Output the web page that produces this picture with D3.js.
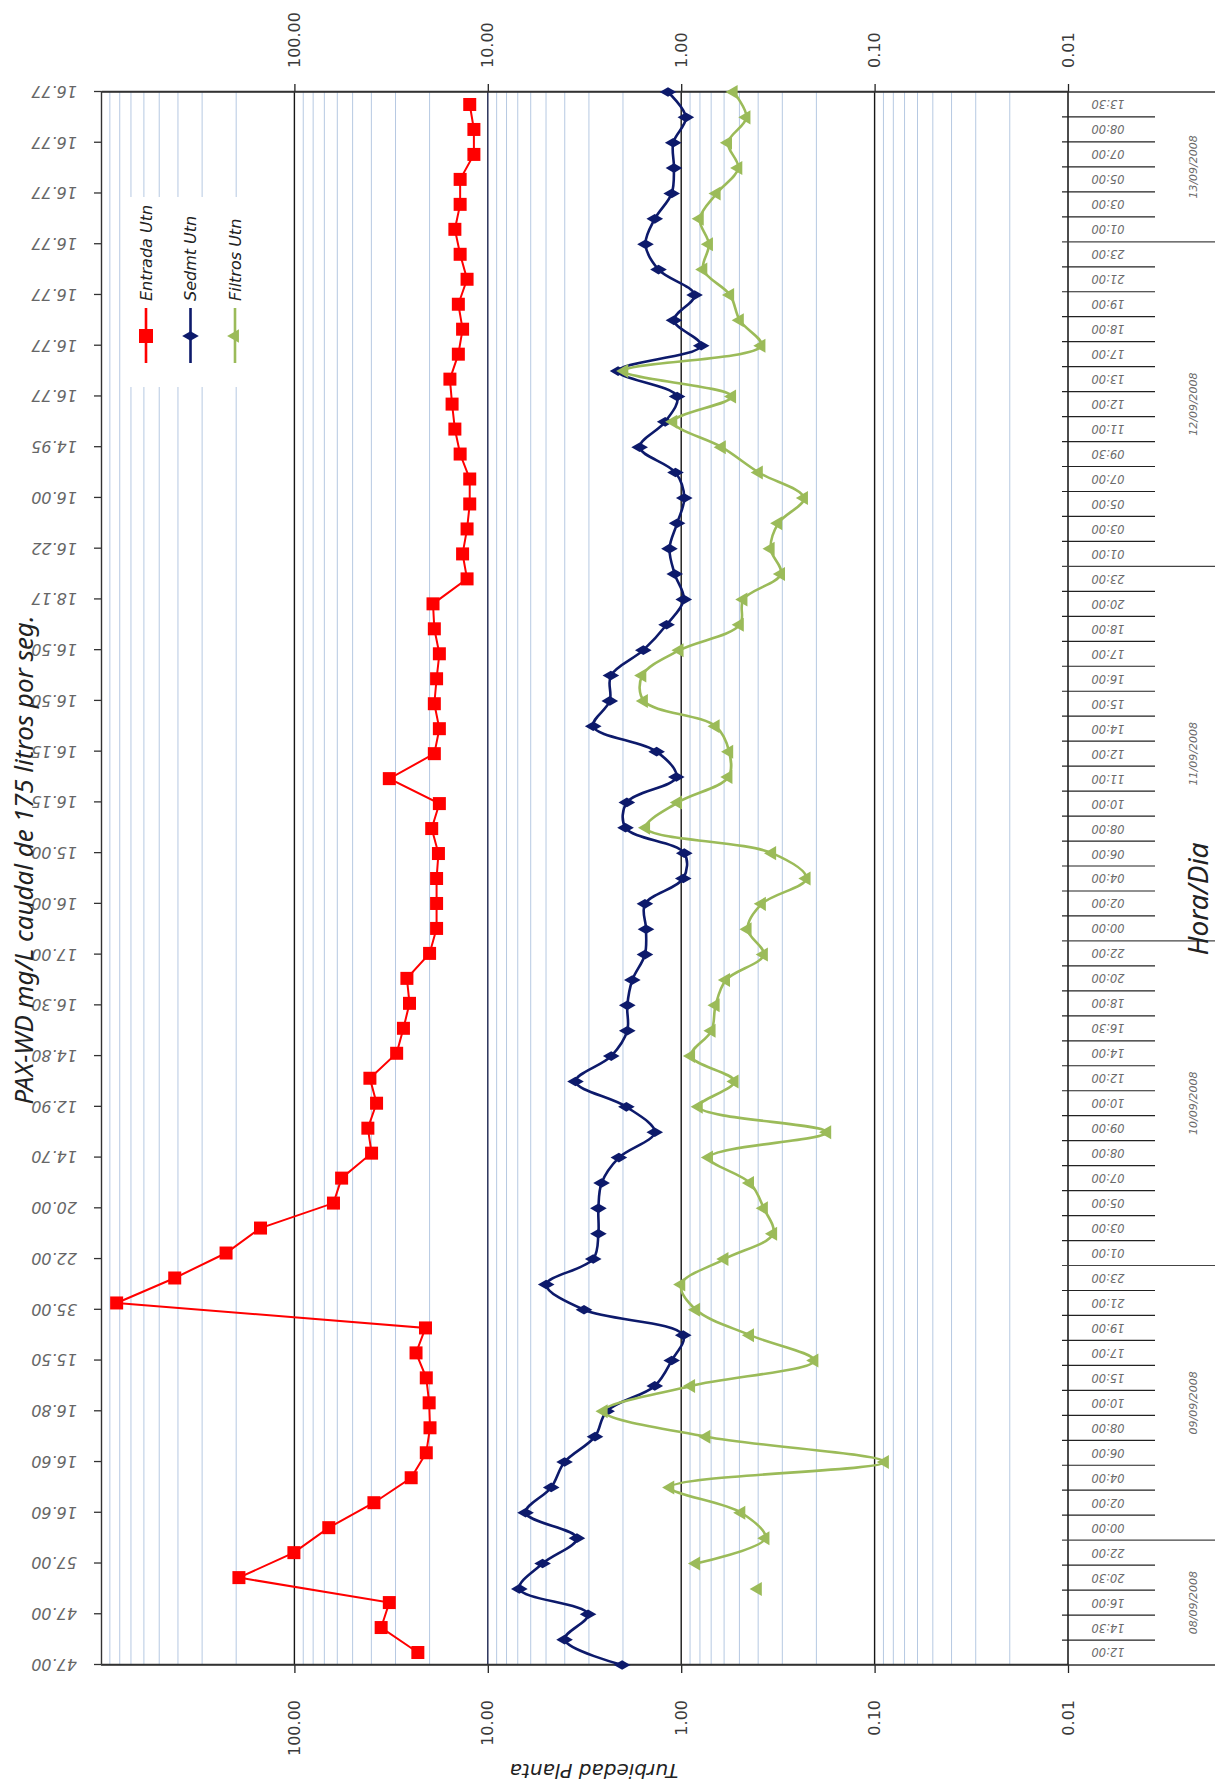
<!DOCTYPE html>
<html>
<head>
<meta charset="utf-8">
<script src="https://cdn.jsdelivr.net/npm/d3@7"></script>
<style>
  html, body { margin: 0; padding: 0; background: #ffffff; }
  svg { display: block; }
</style>
</head>
<body>
<script>
// ---------------- DATA ----------------
const horas = [
  "12:00","14:30","16:00","20:30","22:00",
  "00:00","02:00","04:00","06:00","08:00","10:00","15:00","17:00","19:00","21:00","23:00",
  "01:00","03:00","05:00","07:00","08:00","09:00","10:00","12:00","14:00","16:30","18:00","20:00","22:00",
  "00:00","02:00","04:00","06:00","08:00","10:00","11:00","12:00","14:00","15:00","16:00","17:00","18:00","20:00","23:00",
  "01:00","03:00","05:00","07:00","09:30","11:00","12:00","13:00","17:00","18:00","19:00","21:00","23:00",
  "01:00","03:00","05:00","07:00","08:00","13:30"
];
const dias = ["08/09/2008","09/09/2008","10/09/2008","11/09/2008","12/09/2008","13/09/2008"];
const horasPorDia = [5, 11, 13, 15, 13, 6];

// PAX-WD dose labels on the secondary category axis (every second sample)
const dosisEtiquetas = [
  "47.00","47.00","57.00","16.60","16.60","16.80","15.50","35.00","22.00","20.00",
  "14.70","12.90","14.80","16.30","17.00","16.00","15.00","16.15","16.15","16.50",
  "16.50","18.17","16.22","16.00","14.95","16.77","16.77","16.77","16.77","16.77",
  "16.77","16.77"
];

const entrada = [
  23.0, 35.6, 32.3, 193.6, 100.6, 66.4, 38.8, 24.9, 20.8, 19.9,
  20.1, 20.8, 23.5, 21.0, 830, 415.7, 225.6, 149.7, 62.8, 57.0,
  39.9, 41.7, 37.6, 40.7, 29.6, 27.3, 25.4, 26.2, 20.0, 18.4,
  18.4, 18.4, 18.0, 19.5, 17.8, 32.3, 18.9, 17.8, 18.9, 18.4,
  17.8, 18.9, 19.2, 12.8, 13.5, 12.8, 12.4, 12.4, 13.9, 14.8,
  15.3, 15.7, 14.2, 13.5, 14.2, 12.8, 13.9, 14.8, 13.9, 13.9,
  11.8, 11.8, 12.4
];
const sedmt = [
  2.02, 4.01, 3.03, 6.87, 5.21, 3.46, 6.38, 4.70, 4.01, 2.79,
  2.43, 1.37, 1.12, 0.976, 3.18, 4.99, 2.85, 2.68, 2.68, 2.58,
  2.10, 1.37, 1.92, 3.52, 2.30, 1.90, 1.90, 1.79, 1.54, 1.52,
  1.54, 0.976, 0.964, 1.94, 1.91, 1.06, 1.34, 2.85, 2.34, 2.31,
  1.57, 1.19, 0.97, 1.08, 1.15, 1.05, 0.964, 1.07, 1.64, 1.21,
  1.05, 2.12, 0.788, 1.09, 0.853, 1.31, 1.53, 1.37, 1.12, 1.09,
  1.10, 0.946, 1.17
];
const filtros = [
  null, null, null, 0.402, 0.838, 0.367, 0.489, 1.14, 0.0885, 0.741,
  2.52, 0.890, 0.205, 0.441, 0.838, 1.00, 0.598, 0.335, 0.374, 0.441,
  0.719, 0.176, 0.812, 0.530, 0.890, 0.697, 0.664, 0.587, 0.374, 0.454,
  0.383, 0.225, 0.339, 1.52, 1.04, 0.570, 0.565, 0.664, 1.56, 1.59,
  1.02, 0.498, 0.477, 0.305, 0.345, 0.315, 0.232, 0.397, 0.617, 1.10,
  0.546, 1.97, 0.385, 0.498, 0.559, 0.769, 0.719, 0.802, 0.656, 0.507,
  0.573, 0.460, 0.536
];
// samples of "Filtros" shown as a lone marker (not joined to the line)
const filtrosSoloMarcador = [3];

const valorTicks = [100, 10, 1, 0.1, 0.01];
const series = [
  { nombre: "Entrada Utn", color: "#ff0000", simbolo: "square" },
  { nombre: "Sedmt Utn",   color: "#0d1a6b", simbolo: "diamond" },
  { nombre: "Filtros Utn", color: "#9bbb59", simbolo: "triangle" }
];

// ---------------- LAYOUT (drawn in the chart's own frame, then turned) ----------------
const W = 1787, H = 1225;           // unrotated chart frame
const plotL = 122, plotR = 1695, plotT = 101, plotB = 1068;
const axisFont = "'DejaVu Sans', Verdana, sans-serif";

const svg = d3.select("body").append("svg")
  .attr("width", 1225).attr("height", 1787);
svg.append("rect").attr("width", 1225).attr("height", 1787).attr("fill", "#ffffff");

const g = svg.append("g").attr("transform", `translate(0,${W}) rotate(-90)`);

const idx = d3.range(horas.length);
const xBand = d3.scaleBand().domain(idx).range([plotL, plotR]).paddingInner(0).paddingOuter(0);
const xPoint = d3.scalePoint().domain(idx).range([plotL, plotR]);
const y = d3.scaleLog().domain([0.01, 1000]).range([plotB, plotT]);
const bw = xBand.bandwidth();
const cx = i => xBand(i) + bw / 2;

// plot background
g.append("rect").attr("x", plotL).attr("y", plotT)
  .attr("width", plotR - plotL).attr("height", plotB - plotT).attr("fill", "#ffffff");

// minor gridlines
const menores = [];
[0.01, 0.1, 1, 10, 100].forEach(d => { for (let m = 2; m <= 9; m++) menores.push(m * d); });
g.append("g").selectAll("line").data(menores).join("line")
  .attr("x1", plotL).attr("x2", plotR)
  .attr("y1", d => y(d)).attr("y2", d => y(d))
  .attr("stroke", "#b6c9e2").attr("stroke-width", 1);

// major gridlines
g.append("g").selectAll("line").data([100, 10, 1, 0.1]).join("line")
  .attr("x1", plotL).attr("x2", plotR)
  .attr("y1", d => y(d)).attr("y2", d => y(d))
  .attr("stroke", d => d === 10 ? "#1c2550" : "#161616").attr("stroke-width", 1.4);

// value axes (primary left, secondary right)
const fmt = d3.format(".2f");
const axL = g.append("g").attr("transform", `translate(${plotL},0)`)
  .call(d3.axisLeft(y).tickValues(valorTicks).tickFormat(fmt).tickSize(8).tickSizeOuter(0).tickPadding(27));
const axR = g.append("g").attr("transform", `translate(${plotR},0)`)
  .call(d3.axisRight(y).tickValues(valorTicks).tickFormat(fmt).tickSize(8).tickSizeOuter(0).tickPadding(16));
[axL, axR].forEach(a => {
  a.select(".domain").attr("stroke", "#333").attr("stroke-width", 1.4);
  a.selectAll(".tick line").attr("stroke", "#222").attr("stroke-width", 1.3);
  a.selectAll(".tick text").attr("font-family", axisFont).attr("font-size", 16)
    .attr("fill", "#3a3a3a");
});

// secondary category axis (top) : PAX-WD dose
const axT = g.append("g").attr("transform", `translate(0,${plotT})`)
  .call(d3.axisTop(xPoint).tickValues(d3.range(0, horas.length, 2))
    .tickFormat(i => dosisEtiquetas[i / 2]).tickSize(7).tickSizeOuter(0));
axT.select(".domain").attr("stroke", "#333").attr("stroke-width", 1.4);
axT.selectAll(".tick line").attr("stroke", "#333").attr("stroke-width", 1.3);
axT.selectAll(".tick text")
  .attr("transform", "rotate(-90)").attr("x", 24).attr("y", 0).attr("dy", "0.35em")
  .attr("text-anchor", "start").attr("font-family", axisFont).attr("font-size", 16)
  .attr("font-style", "italic").attr("fill", "#666");

// primary category axis line (at 0.01)
g.append("line").attr("x1", plotL).attr("x2", plotR).attr("y1", plotB).attr("y2", plotB)
  .attr("stroke", "#111").attr("stroke-width", 1.5);

// plot side borders extended through the multi-level label area
g.append("g").selectAll("line").data([plotL, plotR]).join("line")
  .attr("x1", d => d).attr("x2", d => d).attr("y1", plotT).attr("y2", 1215)
  .attr("stroke", "#333").attr("stroke-width", 1.5);

// hour separators and day separators
const inicioDia = [];
let acc = 0;
horasPorDia.forEach(n => { inicioDia.push(acc); acc += n; });
const separadores = d3.range(1, horas.length);
g.append("g").selectAll("line").data(separadores).join("line")
  .attr("x1", k => xBand(k)).attr("x2", k => xBand(k))
  .attr("y1", plotB - 6)
  .attr("y2", k => inicioDia.includes(k) ? 1215 : 1155)
  .attr("stroke", k => inicioDia.includes(k) ? "#444" : "#222")
  .attr("stroke-width", 1.2);

// hour labels
g.append("g").selectAll("text").data(idx).join("text")
  .attr("transform", i => `translate(${cx(i)},1108) rotate(-90)`)
  .attr("dy", "0.35em").attr("text-anchor", "middle")
  .attr("font-family", axisFont).attr("font-size", 11.5).attr("font-style", "italic")
  .attr("fill", "#6a6a6a").text(i => horas[i]);

// day labels
g.append("g").selectAll("text").data(dias).join("text")
  .attr("x", (d, j) => (xBand(inicioDia[j]) + xBand(inicioDia[j] + horasPorDia[j] - 1) + bw) / 2)
  .attr("y", 1197).attr("text-anchor", "middle")
  .attr("font-family", axisFont).attr("font-size", 11).attr("font-style", "italic")
  .attr("fill", "#6a6a6a").text(d => d);

// ---------------- SERIES ----------------
// Entrada: straight segments, band-centred (primary axis)
g.append("path").datum(entrada)
  .attr("d", d3.line().x((d, i) => cx(i)).y(d => y(d)))
  .attr("fill", "none").attr("stroke", series[0].color).attr("stroke-width", 2);
g.append("g").selectAll("rect").data(entrada).join("rect")
  .attr("x", (d, i) => cx(i) - 6.5).attr("y", d => y(d) - 6.5)
  .attr("width", 13).attr("height", 13).attr("fill", series[0].color);

// Sedmt: smoothed, on the secondary (point) axis
g.append("path").datum(sedmt)
  .attr("d", d3.line().x((d, i) => xPoint(i)).y(d => y(d)).curve(d3.curveCatmullRom.alpha(0.5)))
  .attr("fill", "none").attr("stroke", series[1].color).attr("stroke-width", 2.6);
g.append("g").selectAll("path").data(sedmt).join("path")
  .attr("transform", (d, i) => `translate(${xPoint(i)},${y(d)})`)
  .attr("d", d3.symbol(d3.symbolDiamond, 80))
  .attr("fill", series[1].color);

// Filtros: smoothed, on the secondary (point) axis
const filtrosLinea = filtros.map((v, i) => filtrosSoloMarcador.includes(i) ? null : v);
g.append("path").datum(filtrosLinea)
  .attr("d", d3.line().defined(d => d != null).x((d, i) => xPoint(i)).y(d => y(d))
    .curve(d3.curveCatmullRom.alpha(0.5)))
  .attr("fill", "none").attr("stroke", series[2].color).attr("stroke-width", 2.6);
g.append("g").selectAll("path")
  .data(filtros.map((v, i) => ({ v, i })).filter(d => d.v != null)).join("path")
  .attr("transform", d => `translate(${xPoint(d.i)},${y(d.v)})`)
  .attr("d", d3.symbol(d3.symbolTriangle, 85))
  .attr("fill", series[2].color);

// ---------------- LEGEND ----------------
const leg = g.append("g");
leg.append("rect").attr("x", 1400).attr("y", 128).attr("width", 190).attr("height", 121)
  .attr("fill", "#ffffff");
const legY = d3.scalePoint().domain(series.map(s => s.nombre)).range([146, 235]);
series.forEach(s => {
  const yy = legY(s.nombre);
  leg.append("line").attr("x1", 1424).attr("x2", 1479).attr("y1", yy).attr("y2", yy)
    .attr("stroke", s.color).attr("stroke-width", 2.6);
  if (s.simbolo === "square") {
    leg.append("rect").attr("x", 1451 - 7).attr("y", yy - 7).attr("width", 14).attr("height", 14)
      .attr("fill", s.color);
  } else {
    leg.append("path").attr("transform", `translate(1451,${yy})`)
      .attr("d", d3.symbol(s.simbolo === "diamond" ? d3.symbolDiamond : d3.symbolTriangle, 80))
      .attr("fill", s.color);
  }
  leg.append("text").attr("x", 1486).attr("y", yy).attr("dy", "0.35em")
    .attr("font-family", "'DejaVu Sans', sans-serif").attr("font-style", "italic")
    .attr("font-size", 16).attr("fill", "#222").text(s.nombre);
});

// ---------------- TITLES ----------------
g.append("text").attr("x", 927).attr("y", 33).attr("text-anchor", "middle")
  .attr("font-family", "'Liberation Sans Narrow', 'Noto Sans', sans-serif")
  .attr("font-style", "italic").attr("font-size", 26).attr("fill", "#222")
  .text("PAX-WD mg/L caudal de 175 litros por seg.");

g.append("text").attr("transform", "translate(23,594) rotate(-90)")
  .attr("text-anchor", "middle")
  .attr("font-family", "'DejaVu Sans', sans-serif").attr("font-style", "italic")
  .attr("font-size", 20).attr("fill", "#222").text("Turbiedad Planta");

g.append("text").attr("x", 888).attr("y", 1208).attr("text-anchor", "middle")
  .attr("font-family", "'Noto Sans', sans-serif").attr("font-style", "italic")
  .attr("font-size", 28).attr("fill", "#222").text("Hora/Dia");
</script>
</body>
</html>
